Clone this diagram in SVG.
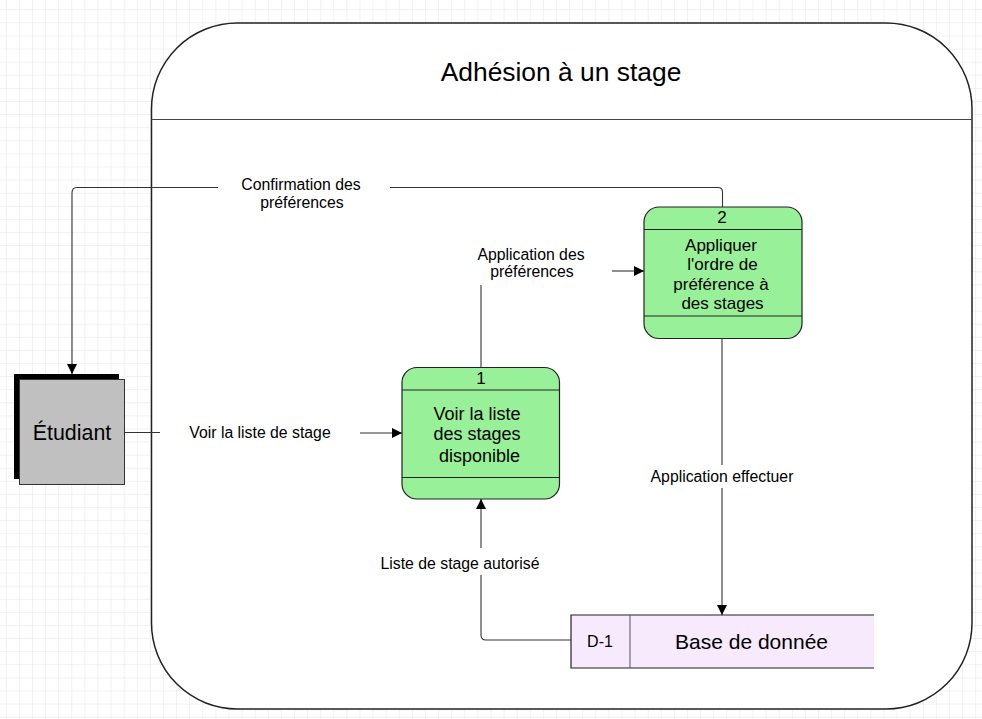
<svg xmlns="http://www.w3.org/2000/svg" width="982" height="719" viewBox="0 0 982 719">
<defs>
<pattern id="grid" x="5.8" y="9.3" width="13.1" height="13.1" patternUnits="userSpaceOnUse">
<path d="M0 0H13.1M0 0V13.1" fill="none" stroke="#e2e2e2" stroke-width="1"/>
</pattern>
<marker id="arr" viewBox="0 0 10 10" refX="10" refY="5" markerWidth="10" markerHeight="10" markerUnits="userSpaceOnUse" orient="auto">
<path d="M0 0L10 5L0 10Z" fill="#000"/>
</marker>
<style>
text{font-family:"Liberation Sans",Arial,sans-serif;fill:#000}
.lbl{font-size:15.8px;text-anchor:middle}
.proc{fill:#98f098;stroke:#222;stroke-width:1.2}
.sep{stroke:#222;stroke-width:1.2}
.pt{font-size:18px;text-anchor:middle}
.pt2{font-size:17px;text-anchor:middle}
.con{fill:none;stroke:#333;stroke-width:1.1}
</style>
</defs>
<rect width="982" height="719" fill="#fff"/>
<rect width="982" height="719" fill="url(#grid)"/>
<g id="container">
<rect x="151.5" y="23" width="820.5" height="686" rx="86" ry="86" fill="#fff" stroke="#222" stroke-width="1.5"/>
<line x1="151.5" y1="119.5" x2="972" y2="119.5" stroke="#444" stroke-width="1.2"/>
<text x="561" y="81" font-size="26.4" text-anchor="middle">Adhésion à un stage</text>
</g>
<g id="etudiant">
<rect x="14" y="374" width="105" height="105" fill="#000"/>
<rect x="19.5" y="379.5" width="105" height="105" fill="#c0c0c0" stroke="#333" stroke-width="1"/>
<text x="72" y="440" font-size="21.4" text-anchor="middle">Étudiant</text>
</g>
<g id="process1">
<rect class="proc" x="402" y="367.5" width="157.5" height="131.5" rx="15" ry="15"/>
<line class="sep" x1="402" y1="390" x2="559.5" y2="390"/>
<line class="sep" x1="402" y1="477.5" x2="559.5" y2="477.5"/>
<text class="pt2" x="481" y="384">1</text>
<text class="pt" x="477" y="419.5">Voir la liste</text>
<text class="pt" x="477" y="439.5">des stages</text>
<text class="pt" x="479.5" y="461.5">disponible</text>
</g>
<g id="process2">
<rect class="proc" x="644" y="207" width="158" height="131.5" rx="15" ry="15"/>
<line class="sep" x1="644" y1="229.5" x2="802" y2="229.5"/>
<line class="sep" x1="644" y1="316" x2="802" y2="316"/>
<text class="pt2" x="722" y="223">2</text>
<text class="pt2" x="721" y="250.5">Appliquer</text>
<text class="pt2" x="722.5" y="270">l'ordre de</text>
<text class="pt2" x="721" y="289.5">préférence à</text>
<text class="pt2" x="722.5" y="309">des stages</text>
</g>
<g id="database">
<path d="M874 615H571V668H874" fill="#f6eafc" stroke="#222" stroke-width="1.2"/>
<line x1="630" y1="615" x2="630" y2="668" stroke="#555" stroke-width="1"/>
<text x="600" y="646.5" font-size="16" text-anchor="middle">D-1</text>
<text x="751.5" y="648.5" font-size="21" text-anchor="middle">Base de donnée</text>
</g>
<g id="connectors">
<path class="con" d="M722.5 207V192Q722.5 187.5 718 187.5H390"/>
<path class="con" d="M218 187.5H77Q72 187.5 72 193V374" marker-end="url(#arr)"/>
<text class="lbl" x="301" y="189.5">Confirmation des</text>
<text class="lbl" x="302" y="207.5">préférences</text>
<path class="con" d="M481 367.5V285"/>
<path class="con" d="M612 271H644" marker-end="url(#arr)"/>
<text class="lbl" x="531" y="259.5">Application des</text>
<text class="lbl" x="532" y="276.5">préférences</text>
<path class="con" d="M125 432.5H160"/>
<path class="con" d="M360 433H402" marker-end="url(#arr)"/>
<text class="lbl" x="260" y="437.5">Voir la liste de stage</text>
<path class="con" d="M722 338.5V465"/>
<path class="con" d="M722 488V615" marker-end="url(#arr)"/>
<text class="lbl" x="722" y="481.5">Application effectuer</text>
<path class="con" d="M571 640H486Q481 640 481 635V575"/>
<path class="con" d="M481 548V499" marker-end="url(#arr)"/>
<text class="lbl" x="460" y="568.5">Liste de stage autorisé</text>
</g>
</svg>
